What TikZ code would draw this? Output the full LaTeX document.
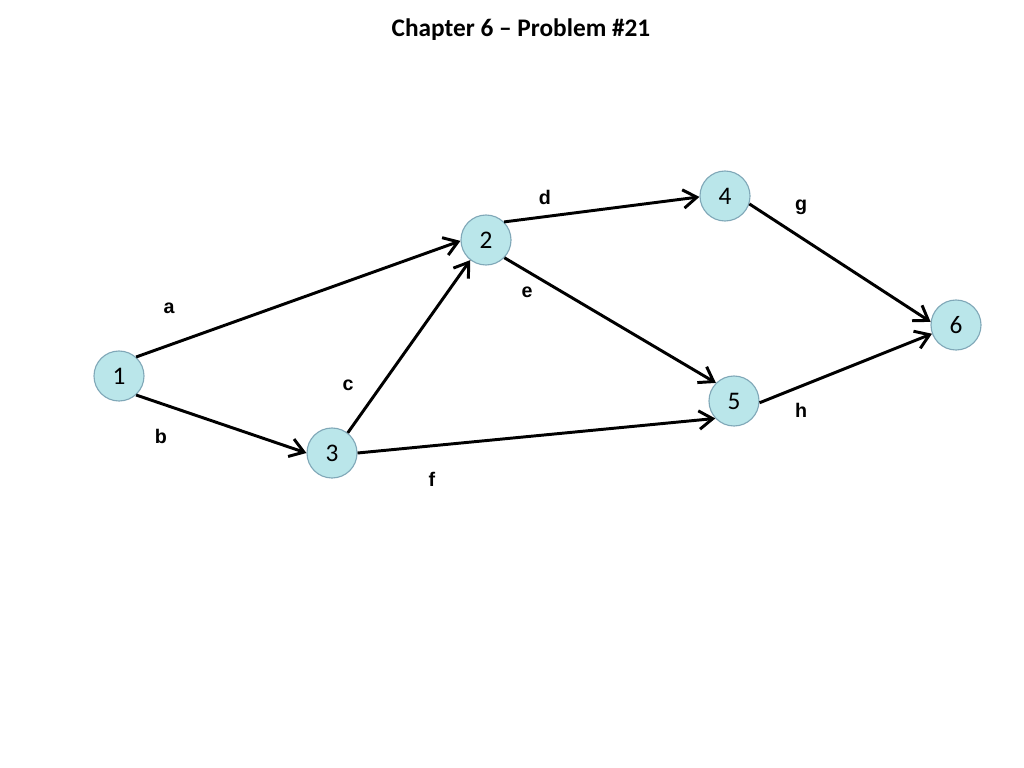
\documentclass[tikz,border=0pt]{standalone}
\usepackage{fontspec}
\setmainfont{Carlito}
\newfontfamily\labelfont{Liberation Sans}
\usepackage{xcolor}
\usetikzlibrary{arrows.meta, positioning}
\definecolor{nodefill}{RGB}{186,230,234}
\definecolor{nodeline}{RGB}{128,168,184}
\tikzset{
  event/.style  = {circle, draw=nodeline, fill=nodefill, line width=0.8pt,
                   minimum size=1.25cm, inner sep=0pt, font=\fontsize{18}{18}\selectfont},
  arrow/.style  = {line width=2.1pt, -{Straight Barb[length=3.4mm, width=4.6mm]}},
  tag/.style    = {font=\labelfont\bfseries\fontsize{14}{14}\selectfont},
}

\begin{document}
\begin{tikzpicture}[x=0.025cm, y=-0.025cm]

    \useasboundingbox (0,0) rectangle (1024,768);

    %% Title
    \node[font=\bfseries\fontsize{18}{18}\selectfont] (title) at (521, 30) {Chapter 6 -- Problem \#21};

    %% Event nodes
    \node[event] (n1) at (119, 376) {1};
    \node[event] (n2) at (486, 240) {2};
    \node[event] (n3) at (332, 453) {3};
    \node[event] (n4) at (725, 196) {4};
    \node[event] (n5) at (734, 401) {5};
    \node[event] (n6) at (956, 325) {6};

    %% Activities
    \draw[arrow] (n1.48)  -- (n2.182);
    \draw[arrow] (n1.-48) -- (n3.180);
    \draw[arrow] (n3.52)  -- (n2.232);
    \draw[arrow] (n2.45)  -- (n4.182);
    \draw[arrow] (n2.-44) -- (n5.135);
    \draw[arrow] (n3.0)   -- (n5.223);
    \draw[arrow] (n4.-18) -- (n6.173);
    \draw[arrow] (n5.-4)  -- (n6.200);

    %% Activity labels
    \node[tag] (la) at (169, 308) {a};
    \node[tag] (lb) at (161, 436) {b};
    \node[tag] (lc) at (348, 385) {c};
    \node[tag] (ld) at (545, 197) {d};
    \node[tag] (le) at (527, 292) {e};
    \node[tag] (lf) at (432, 479) {f};
    \node[tag] (lg) at (801, 207) {g};
    \node[tag] (lh) at (801, 410) {h};

\end{tikzpicture}
\end{document}
